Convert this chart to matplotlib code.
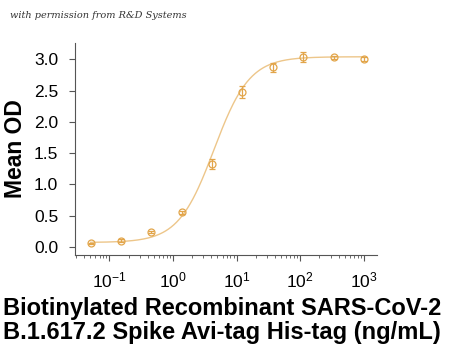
import matplotlib
matplotlib.use("Agg")
import matplotlib.pyplot as plt
import numpy as np

# data
conc = [0.0508, 0.152, 0.457, 1.37, 4.12, 12.3, 37.0, 111.0, 333.0, 1000.0]
mean_od = [0.054, 0.10, 0.235, 0.55, 1.33, 2.48, 2.87, 3.03, 3.03, 3.01]
od_err = [0.01, 0.02, 0.02, 0.03, 0.08, 0.10, 0.07, 0.08, 0.02, 0.03]

# 4PL fit parameters (bottom, top, EC50, hill)
fit_bottom, fit_top, fit_ec50, fit_hill = 0.07, 3.04, 4.4, 1.55

C_LINE = "#EDC68A"
C_MARK = "#E2A54A"

plt.rcParams.update({
    "font.family": ["Liberation Sans", "DejaVu Sans"],
})

fig = plt.figure(figsize=(4.5, 3.51), dpi=100)
ax = fig.add_axes([0.1667, 0.2735, 0.6703, 0.604])

xs = np.logspace(np.log10(conc[0]), np.log10(conc[-1]), 300)
ys = fit_bottom + (fit_top - fit_bottom) / (1 + (fit_ec50 / xs) ** fit_hill)
ax.plot(xs, ys, color=C_LINE, lw=1.0, zorder=2)

ax.errorbar(conc, mean_od, yerr=od_err, fmt="o", ms=5, mfc="none",
            mec=C_MARK, mew=0.9, ecolor=C_MARK, elinewidth=0.9,
            capsize=2.5, capthick=0.9, zorder=3)

ax.set_xscale("log")
ax.set_xlim(10 ** -1.54, 10 ** 3.2)
ax.set_ylim(-0.13, 3.26)
ax.set_xticks([0.1, 1, 10, 100, 1000])
ax.set_yticks([0, 0.5, 1.0, 1.5, 2.0, 2.5, 3.0])
ax.set_yticklabels(["0.0", "0.5", "1.0", "1.5", "2.0", "2.5", "3.0"])

for s in ["top", "right"]:
    ax.spines[s].set_visible(False)
for s in ["left", "bottom"]:
    ax.spines[s].set_color("#555555")
    ax.spines[s].set_linewidth(0.8)

ax.tick_params(axis="x", which="major", labelsize=12.5, length=4,
               width=0.8, color="#555555", pad=7)
ax.tick_params(axis="y", which="major", labelsize=12.5, length=4,
               width=0.8, color="#555555", pad=8)
ax.tick_params(axis="x", which="minor", length=2, width=0.6, color="#555555")

fig.text(0.034, 0.578, "Mean OD", fontsize=16.5, fontweight="bold",
         rotation=90, ha="center", va="center")

fig.text(0.007, 0.103, "Biotinylated Recombinant SARS-CoV-2", fontsize=17,
         fontweight="bold", ha="left", va="baseline")
fig.text(0.007, 0.033, "B.1.617.2 Spike Avi-tag His-tag (ng/mL)", fontsize=17,
         fontweight="bold", ha="left", va="baseline")

fig.text(0.022, 0.957, "with permission from R&D Systems", fontsize=7,
         fontstyle="italic", family="DejaVu Serif", color="#333333",
         ha="left", va="center")

fig.savefig("out.png", dpi=100, facecolor="white")
